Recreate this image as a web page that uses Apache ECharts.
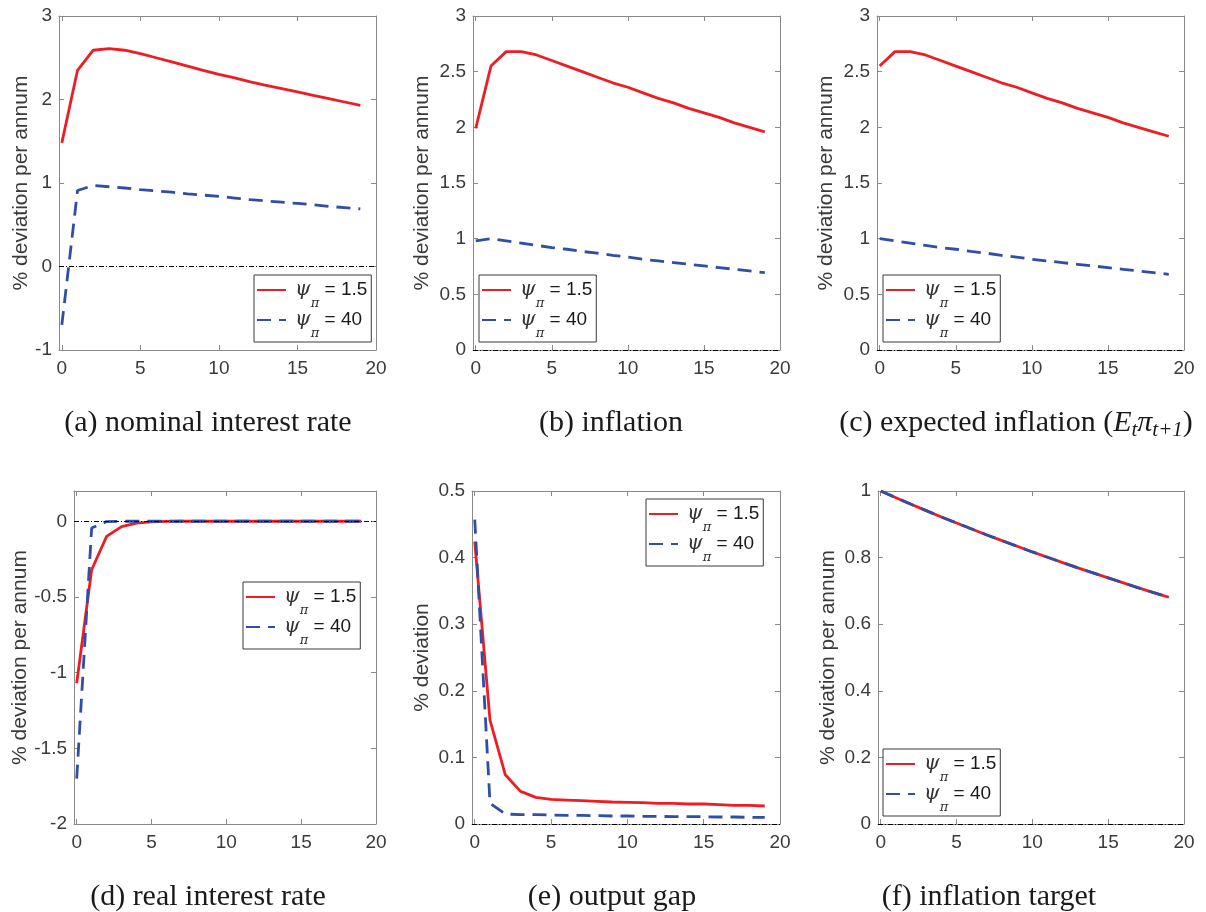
<!DOCTYPE html>
<html>
<head>
<meta charset="utf-8">
<title>Impulse responses to an inflation-target shock</title>
<script src="https://cdn.jsdelivr.net/npm/echarts@6/dist/echarts.min.js"></script>
<style>
  html, body { margin: 0; padding: 0; background: #ffffff; }
  #chart { width: 1206px; height: 912px; }
</style>
</head>
<body>
<div id="chart"></div>
<script>
// Horizon (quarters after the shock)
const steps = [0, 1, 2, 3, 4, 5, 6, 7, 8, 9, 10, 11, 12, 13, 14, 15, 16, 17, 18, 19];

// Policy-rule coefficients compared in every panel
const psiValues = ['1.5', '40'];

// (a) nominal interest rate
const nominalLow  = [1.48, 2.35, 2.59, 2.61, 2.59, 2.55, 2.50, 2.45, 2.40, 2.35, 2.30, 2.26, 2.21, 2.17, 2.13, 2.09, 2.05, 2.01, 1.97, 1.93];
const nominalHigh = [-0.70, 0.91, 0.97, 0.955, 0.94, 0.92, 0.905, 0.89, 0.87, 0.855, 0.84, 0.82, 0.80, 0.785, 0.77, 0.755, 0.74, 0.72, 0.705, 0.69];

// (b) inflation
const inflationLow  = [1.99, 2.55, 2.68, 2.68, 2.65, 2.60, 2.55, 2.50, 2.45, 2.40, 2.36, 2.31, 2.26, 2.22, 2.17, 2.13, 2.09, 2.04, 2.00, 1.96];
const inflationHigh = [0.98, 1.00, 0.98, 0.96, 0.94, 0.92, 0.905, 0.885, 0.87, 0.85, 0.835, 0.815, 0.80, 0.785, 0.77, 0.755, 0.74, 0.725, 0.71, 0.695];

// (c) expected inflation E_t pi_{t+1}
const expInflLow  = [2.55, 2.68, 2.68, 2.65, 2.60, 2.55, 2.50, 2.45, 2.40, 2.36, 2.31, 2.26, 2.22, 2.17, 2.13, 2.09, 2.04, 2.00, 1.96, 1.92];
const expInflHigh = [1.00, 0.98, 0.96, 0.94, 0.92, 0.905, 0.885, 0.87, 0.85, 0.835, 0.815, 0.80, 0.785, 0.77, 0.755, 0.74, 0.725, 0.71, 0.695, 0.68];

// (d) real interest rate
const realLow  = [-1.07, -0.32, -0.10, -0.035, -0.012, -0.004, -0.001, 0, 0, 0, 0, 0, 0, 0, 0, 0, 0, 0, 0, 0];
const realHigh = [-1.70, -0.045, -0.002, 0, 0, 0, 0, 0, 0, 0, 0, 0, 0, 0, 0, 0, 0, 0, 0, 0];

// (e) output gap
const gapLow  = [0.424, 0.156, 0.074, 0.049, 0.040, 0.037, 0.036, 0.035, 0.034, 0.033, 0.0325, 0.032, 0.031, 0.031, 0.030, 0.030, 0.029, 0.028, 0.028, 0.027];
const gapHigh = [0.457, 0.031, 0.015, 0.014, 0.014, 0.0135, 0.013, 0.013, 0.0125, 0.012, 0.012, 0.0115, 0.0115, 0.011, 0.011, 0.011, 0.0105, 0.0105, 0.010, 0.010];

// (f) inflation target (identical under both rules)
const targetLow  = [1.000, 0.980, 0.960, 0.941, 0.922, 0.904, 0.886, 0.868, 0.851, 0.834, 0.817, 0.801, 0.785, 0.769, 0.754, 0.739, 0.724, 0.709, 0.695, 0.681];
const targetHigh = [1.000, 0.980, 0.960, 0.941, 0.922, 0.904, 0.886, 0.868, 0.851, 0.834, 0.817, 0.801, 0.785, 0.769, 0.754, 0.739, 0.724, 0.709, 0.695, 0.681];

// Tick labels
const xTicks = [0, 5, 10, 15, 20];
const yTicksRate = [-1, 0, 1, 2, 3];
const yTicksInfl = [0, 0.5, 1, 1.5, 2, 2.5, 3];
const yTicksReal = [-2, -1.5, -1, -0.5, 0];
const yTicksGap = [0, 0.1, 0.2, 0.3, 0.4, 0.5];
const yTicksTarget = [0, 0.2, 0.4, 0.6, 0.8, 1];

// Axis titles and captions
const yTitleAnnual = '% deviation per annum';
const yTitleGap = '% deviation';
const captions = [
  '{r|(a) nominal interest rate}',
  '{r|(b) inflation}',
  '{r|(c) expected inflation (}{i|E}{s|t}{i|π}{s|t+1}{r|)}',
  '{r|(d) real interest rate}',
  '{r|(e) output gap}',
  '{r|(f) inflation target}'
];

const legendNames = psiValues.map(v => 'ψπ = ' + v);

// ---------------------------------------------------------------- layout
const SANS = '"Liberation Sans", Arial, Helvetica, sans-serif';
const SERIF = '"Liberation Serif", "Times New Roman", serif';
const AXIS_GRAY = '#8a8a8a';
const LABEL_GRAY = '#3a3a3a';
const RED = '#ee1d23';
const BLUE = '#2f4ea6';
const X_MIN = -0.18;

const panels = [
  { box: [59, 16, 317, 334],  y: [-1, 3],   ticks: yTicksRate,   title: yTitleAnnual, gap: 27, low: nominalLow,   high: nominalHigh,   legend: [254, 275], cap: [208, 423] },
  { box: [473, 16, 307, 334], y: [0, 3],    ticks: yTicksInfl,   title: yTitleAnnual, gap: 40, low: inflationLow, high: inflationHigh, legend: [479, 275], cap: [611, 423] },
  { box: [877, 16, 307, 334], y: [0, 3],    ticks: yTicksInfl,   title: yTitleAnnual, gap: 40, low: expInflLow,   high: expInflHigh,   legend: [883, 275], cap: [1016, 423] },
  { box: [74, 491, 302, 333], y: [-2, 0.2], ticks: yTicksReal,   title: yTitleAnnual, gap: 43, low: realLow,      high: realHigh,      legend: [243, 582], cap: [208, 897] },
  { box: [472, 491, 308, 333],y: [0, 0.5],  ticks: yTicksGap,    title: yTitleGap,    gap: 39, low: gapLow,       high: gapHigh,       legend: [646, 499], cap: [612, 897] },
  { box: [878, 491, 306, 333],y: [0, 1],    ticks: yTicksTarget, title: yTitleAnnual, gap: 39, low: targetLow,    high: targetHigh,    legend: [883, 749], cap: [989, 897] }
];

const pairs = vals => steps.map((t, i) => [t, vals[i]]);

const grid = [], xAxis = [], yAxis = [], series = [], legend = [], graphic = [];

panels.forEach((p, i) => {
  grid.push({
    left: p.box[0], top: p.box[1], width: p.box[2], height: p.box[3],
    containLabel: false, outerBoundsMode: 'none', show: false
  });

  const axisLine = { show: true, onZero: false, lineStyle: { color: AXIS_GRAY, width: 1 } };
  const tickLabel = { fontFamily: SANS, fontSize: 19, color: LABEL_GRAY };

  // bottom and mirrored top x axes
  ['bottom', 'top'].forEach(pos => {
    xAxis.push({
      type: 'value', gridIndex: i, position: pos, min: X_MIN, max: 20,
      axisLine,
      axisTick: { show: true, inside: true, length: 5, customValues: xTicks, lineStyle: { color: AXIS_GRAY } },
      axisLabel: pos === 'bottom'
        ? Object.assign({ show: true, margin: 9, customValues: xTicks, formatter: v => String(v) }, tickLabel)
        : { show: false },
      splitLine: { show: false }
    });
  });

  // left and mirrored right y axes
  ['left', 'right'].forEach(pos => {
    yAxis.push({
      type: 'value', gridIndex: i, position: pos, min: p.y[0], max: p.y[1],
      axisLine,
      axisTick: { show: true, inside: true, length: 5, customValues: p.ticks, lineStyle: { color: AXIS_GRAY } },
      axisLabel: pos === 'left'
        ? Object.assign({ show: true, margin: 7, customValues: p.ticks, formatter: v => String(v) }, tickLabel)
        : { show: false },
      splitLine: { show: false },
      name: pos === 'left' ? p.title : '',
      nameLocation: 'middle',
      nameRotate: 90,
      nameGap: p.gap,
      nameTextStyle: { fontFamily: SANS, fontSize: 21, color: LABEL_GRAY }
    });
  });

  series.push({
    name: legendNames[0], type: 'line', xAxisIndex: 2 * i, yAxisIndex: 2 * i,
    data: pairs(p.low), symbol: 'none', showSymbol: false,
    lineStyle: { color: RED, width: 2.8 }, itemStyle: { color: RED },
    markLine: {
      silent: true, symbol: ['none', 'none'], label: { show: false },
      lineStyle: { color: '#000000', width: 1, type: [5, 2, 1, 2] },
      emphasis: { disabled: true },
      data: [{ yAxis: 0 }]
    }
  });
  series.push({
    name: legendNames[1], type: 'line', xAxisIndex: 2 * i, yAxisIndex: 2 * i,
    data: pairs(p.high), symbol: 'none', showSymbol: false,
    lineStyle: { color: BLUE, width: 2.8, type: [14, 8] }, itemStyle: { color: BLUE }
  });

  legend.push({
    data: legendNames,
    orient: 'vertical',
    left: p.legend[0], top: p.legend[1],
    itemWidth: 29, itemHeight: 14, itemGap: -5,
    padding: [0, 4, 2, 2],
    backgroundColor: '#ffffff',
    borderColor: '#3a3a3a', borderWidth: 1, borderRadius: 0,
    selectedMode: false,
    // line sample only, no marker dot
    itemStyle: { opacity: 0, borderWidth: 0 },
    formatter: name => '{g|ψ}{s|π}{t| = ' + psiValues[legendNames.indexOf(name)] + '}',
    textStyle: {
      rich: {
        g: { fontFamily: '"DejaVu Serif", serif', fontStyle: 'italic', fontSize: 20, color: '#333333', lineHeight: 30, padding: [0, 0, 0, 4] },
        s: { fontFamily: '"DejaVu Serif", serif', fontStyle: 'italic', fontSize: 13, color: '#333333', lineHeight: 4, padding: [22, 0, 0, 0], verticalAlign: 'top' },
        t: { fontFamily: SANS, fontSize: 19, color: '#1a1a1a', lineHeight: 30 }
      }
    }
  });

  graphic.push({
    type: 'text', x: p.cap[0], y: p.cap[1], silent: true,
    style: {
      text: captions[i], align: 'center', verticalAlign: 'middle',
      rich: {
        r: { fontFamily: SERIF, fontSize: 30, fill: '#1a1a1a', lineHeight: 36 },
        i: { fontFamily: SERIF, fontStyle: 'italic', fontSize: 30, fill: '#1a1a1a', lineHeight: 36 },
        s: { fontFamily: SERIF, fontStyle: 'italic', fontSize: 21, fill: '#1a1a1a', lineHeight: 24, verticalAlign: 'bottom' }
      }
    }
  });
});

const chart = echarts.init(document.getElementById('chart'), null, { renderer: 'canvas' });
chart.setOption({
  animation: false,
  backgroundColor: '#ffffff',
  grid, xAxis, yAxis, series, legend, graphic,
  tooltip: { show: false }
});
</script>
</body>
</html>
